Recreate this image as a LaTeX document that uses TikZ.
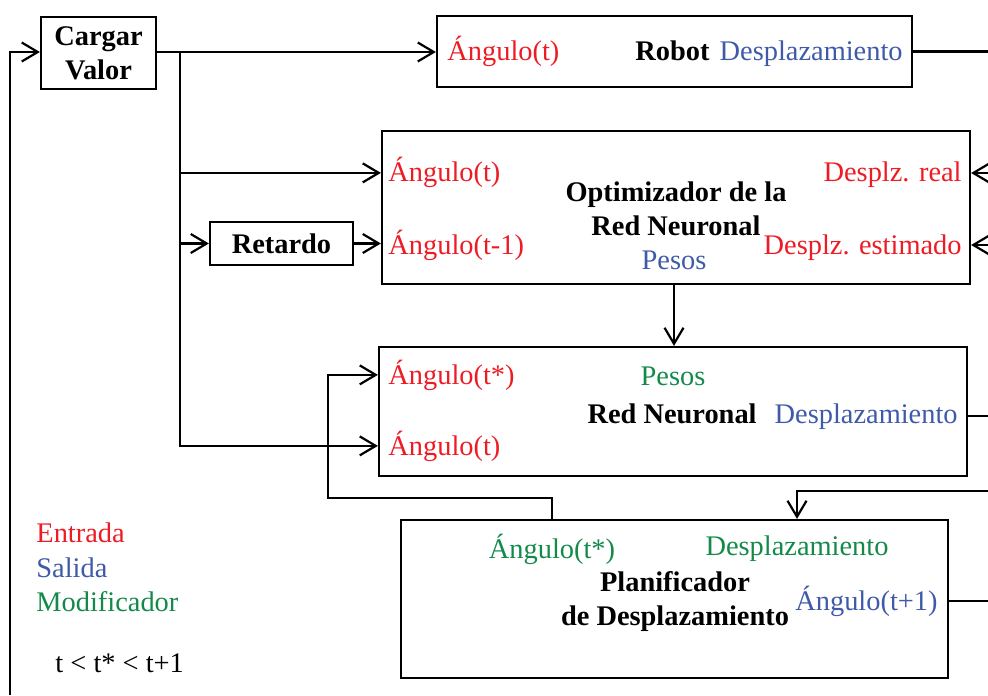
\documentclass[tikz,border=0pt]{standalone}
\usepackage{fontspec}
\setmainfont{Liberation Serif}
\usetikzlibrary{arrows.meta}
\definecolor{inred}{RGB}{237,28,36}
\definecolor{outblue}{RGB}{63,90,168}
\definecolor{modgreen}{RGB}{19,138,74}

\begin{document}
\begin{tikzpicture}[x=0.5pt, y=-0.5pt,
    font=\fontsize{14.2}{17}\selectfont,
    box/.style={draw, line width=1.1pt, inner sep=0pt},
    bold/.style={font=\fontsize{14.2}{17}\selectfont\bfseries, align=center, inner sep=0pt},
    lbl/.style={inner sep=0pt},
    wire/.style={line width=1.1pt},
    arr/.style={line width=1.1pt, -{Straight Barb[length=8pt, width=9.5pt]}}]
    \useasboundingbox (0,0) rectangle (988,695);

    % Blocks
    \node[box, bold, minimum width=57.5pt, minimum height=36pt] (cargar) at (98.5,53) {Cargar\\Valor};
    \node[box, minimum width=237.5pt, minimum height=35.5pt] (robot) at (674.5,51.5) {};
    \node[box, minimum width=294pt, minimum height=76.5pt] (opt) at (676,207.5) {};
    \node[box, bold, minimum width=71.5pt, minimum height=21.5pt] (retardo) at (281.5,243.5) {Retardo};
    \node[box, minimum width=294pt, minimum height=64.5pt] (red) at (673,411.5) {};
    \node[box, minimum width=273.5pt, minimum height=79pt] (plan) at (674.5,599) {};

    % Robot
    \node[lbl, anchor=base west, inred] (robA) at (447,61) {Ángulo(t)};
    \node[lbl, anchor=base east, font=\fontsize{14.2}{17}\selectfont\bfseries] (robN) at (710,61) {Robot};
    \node[lbl, anchor=base east, outblue] (robD) at (903,61) {Desplazamiento};

    % Optimizador
    \node[lbl, anchor=base west, inred] (optA1) at (388,182) {Ángulo(t)};
    \node[lbl, anchor=base west, inred] (optA2) at (388,254) {Ángulo(t-1)};
    \node[bold] (optT) at (676,209) {Optimizador de la\\Red Neuronal};
    \node[lbl, outblue] (optP) at (674,260) {Pesos};
    \node[lbl, anchor=base east, inred] (optD1) at (962,182) {Desplz. real};
    \node[lbl, anchor=base east, inred] (optD2) at (962,254) {Desplz. estimado};

    % Red Neuronal
    \node[lbl, anchor=base west, inred] (redA1) at (388,384) {Ángulo(t*)};
    \node[lbl, anchor=base west, inred] (redA2) at (388,455) {Ángulo(t)};
    \node[lbl, modgreen] (redP) at (673,376) {Pesos};
    \node[lbl, anchor=base east, font=\fontsize{14.2}{17}\selectfont\bfseries] (redN) at (757,423) {Red Neuronal};
    \node[lbl, anchor=base east, outblue] (redD) at (958,423) {Desplazamiento};

    % Planificador
    \node[lbl, modgreen] (planA) at (552,549) {Ángulo(t*)};
    \node[lbl, modgreen] (planD) at (797,549) {Desplazamiento};
    \node[bold] (planT) at (675,602) {Planificador\\de Desplazamiento};
    \node[lbl, anchor=base east, outblue] (planO) at (938,610) {Ángulo(t+1)};

    % Legend
    \node[lbl, anchor=base west, inred] (legE) at (36,542) {Entrada};
    \node[lbl, anchor=base west, outblue] (legS) at (36,577) {Salida};
    \node[lbl, anchor=base west, modgreen] (legM) at (36,611) {Modificador};
    \node[lbl, anchor=base west] (legT) at (55,672) {t < t* < t+1};

    % Free ends
    \coordinate (edge) at (988,0);
    \coordinate (br) at (180,52);
    \coordinate (lp) at (328,498);
    \coordinate (rin1) at (988,173);
    \coordinate (rin2) at (988,245);
    \coordinate (rin3) at (988,491);
    \coordinate (fb) at (10,695);

    % Connectors
    \draw[arr] (cargar.east |- br) -- (robot.west |- br);
    \draw[wire] (robot.east) -- (robot.east -| edge);
    \draw[arr] (br) |- (opt.west |- optA1.west);
    \draw[arr] (br) |- (retardo.west);
    \draw[arr] (retardo.east) -- (opt.west |- retardo.east);
    \draw[arr] (br) |- (red.west |- redA2.west);
    \draw[arr] (rin1) -- (opt.east |- rin1);
    \draw[arr] (rin2) -- (opt.east |- rin2);
    \draw[arr] (opt.south -| optP) -- (red.north -| optP);
    \draw[wire] (red.east |- redD.west) -- (edge |- redD.west);
    \draw[arr] (plan.north -| planA) |- (lp) |- (red.west |- redA1.west);
    \draw[arr] (rin3) -| (plan.north -| planD);
    \draw[wire] (plan.east |- planO.west) -- (edge |- planO.west);
    \draw[arr] (fb) |- (cargar.west |- br);
\end{tikzpicture}
\end{document}
